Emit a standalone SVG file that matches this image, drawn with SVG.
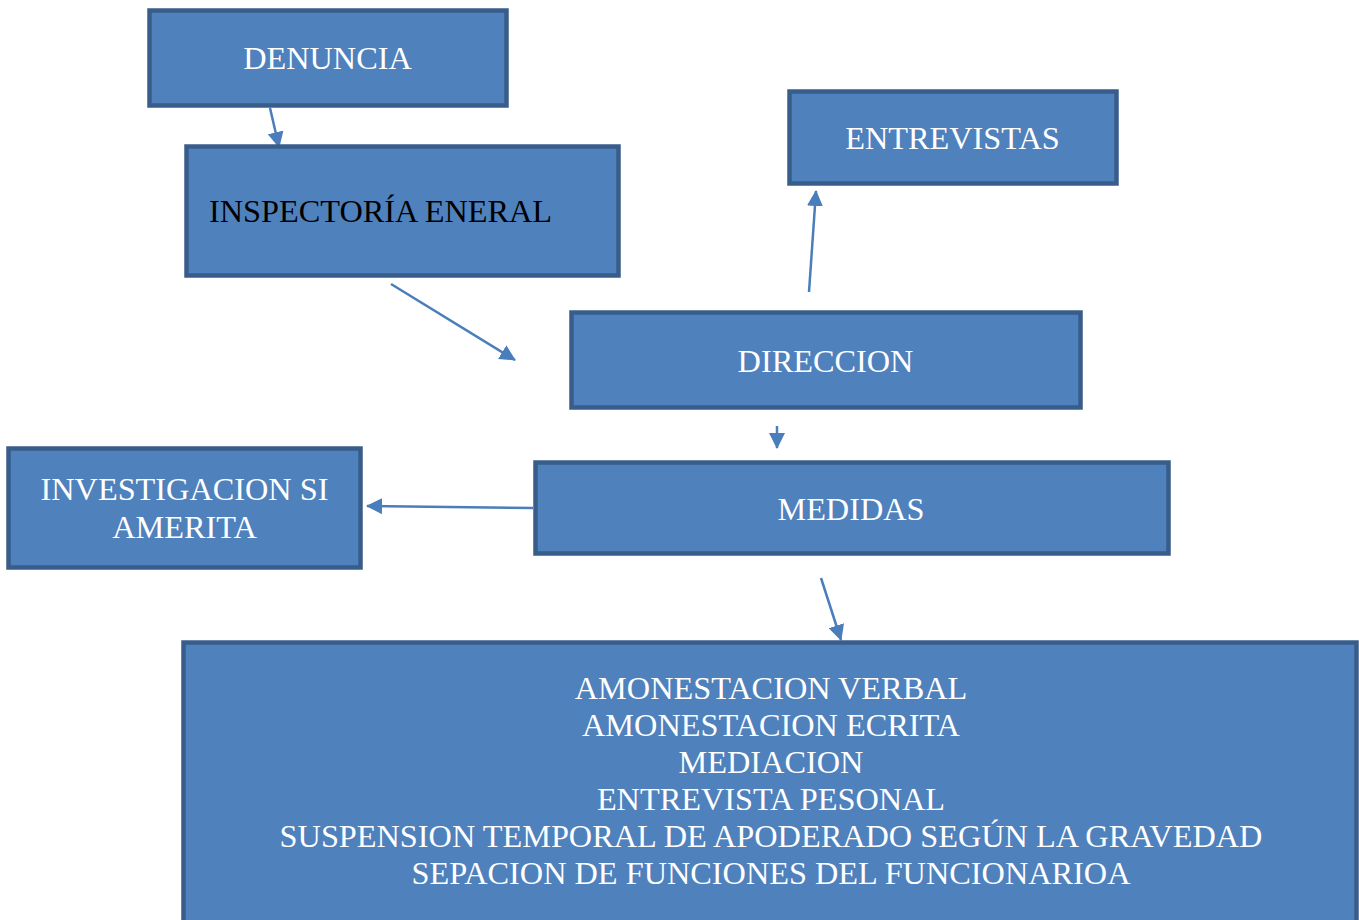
<svg xmlns="http://www.w3.org/2000/svg" width="1359" height="920" viewBox="0 0 1359 920">
<defs>
<style>
.box{fill:#4F81BD;stroke:#385D8A;stroke-width:4.5}
.t{font-family:"Liberation Serif","Times New Roman",serif;font-size:32.3px;fill:#ffffff;text-anchor:middle}
.tb{font-family:"Liberation Serif","Times New Roman",serif;font-size:32.3px;fill:#000000}
.c{stroke:#4A7EBB;stroke-width:2.5;fill:none;marker-end:url(#ah)}
</style>
<marker id="ah" markerUnits="userSpaceOnUse" markerWidth="16" markerHeight="16" viewBox="0 0 16 16" refX="15" refY="8" orient="auto">
<path d="M0,0 L16,8 L0,16 Z" fill="#4A7EBB"/>
</marker>
</defs>
<rect width="1359" height="920" fill="#ffffff"/>
<g id="connectors">
<line class="c" x1="270" y1="108" x2="279" y2="147"/>
<line class="c" x1="391" y1="284" x2="515" y2="360"/>
<line class="c" x1="809" y1="292" x2="816" y2="191"/>
<line class="c" x1="777" y1="426" x2="777" y2="448"/>
<line class="c" x1="533" y1="508" x2="367" y2="506"/>
<line class="c" x1="821" y1="578" x2="841" y2="640"/>
</g>
<g id="denuncia">
<rect class="box" x="149.5" y="10.5" width="357" height="95"/>
<text class="t" x="327.5" y="69">DENUNCIA</text>
</g>
<g id="inspectoria">
<rect class="box" x="186.5" y="146.5" width="432" height="129"/>
<text class="tb" x="209" y="222">INSPECTORÍA ENERAL</text>
</g>
<g id="entrevistas">
<rect class="box" x="789.5" y="91.5" width="327" height="92"/>
<text class="t" x="952.5" y="149">ENTREVISTAS</text>
</g>
<g id="direccion">
<rect class="box" x="571.5" y="312.5" width="509" height="95"/>
<text class="t" x="825.5" y="372">DIRECCION</text>
</g>
<g id="medidas">
<rect class="box" x="535.5" y="462.5" width="633" height="91"/>
<text class="t" x="851" y="520">MEDIDAS</text>
</g>
<g id="investigacion">
<rect class="box" x="8.5" y="448.5" width="352" height="119"/>
<text class="t" x="184.5" y="500">INVESTIGACION SI</text>
<text class="t" x="184.5" y="538">AMERITA</text>
</g>
<g id="acciones">
<rect class="box" x="183.5" y="642.5" width="1173" height="290"/>
<text class="t" x="771" y="699">AMONESTACION VERBAL</text>
<text class="t" x="771" y="736">AMONESTACION ECRITA</text>
<text class="t" x="771" y="773">MEDIACION</text>
<text class="t" x="771" y="810">ENTREVISTA PESONAL</text>
<text class="t" x="771" y="847">SUSPENSION TEMPORAL DE APODERADO SEGÚN LA GRAVEDAD</text>
<text class="t" x="771" y="884">SEPACION DE FUNCIONES DEL FUNCIONARIOA</text>
</g>
</svg>
